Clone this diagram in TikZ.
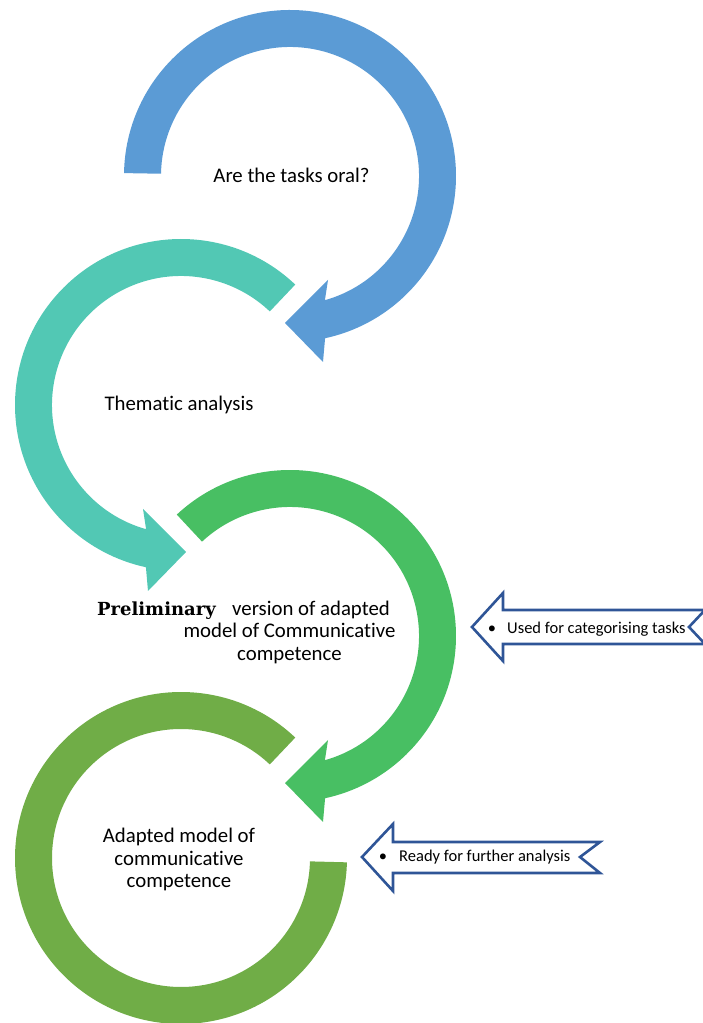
\documentclass[tikz,border=0pt]{standalone}
\usepackage{fontspec}
\setmainfont{Carlito}[Ligatures={NoCommon}]
\newfontfamily\prelimfont{DejaVu Serif}
\definecolor{cblue}{RGB}{91,155,213}
\definecolor{cteal}{RGB}{82,200,180}
\definecolor{cgreen}{RGB}{72,191,99}
\definecolor{colive}{RGB}{112,173,71}
\definecolor{cline}{RGB}{47,85,151}
\tikzset{
  lbl/.style={inner sep=0pt, font=\fontsize{20.8}{22.5}\selectfont, text=black},
  prelim/.style={inner sep=0pt, font=\prelimfont\bfseries\fontsize{18}{21}\selectfont, text=black},
  small/.style={inner sep=0pt, font=\fontsize{16.5}{19}\selectfont, text=black},
  callout/.style={draw=cline, line width=2.6pt, fill=white, line join=miter}
}
\begin{document}
\begin{tikzpicture}[x=1pt,y=1pt]
\useasboundingbox (0,0) rectangle (703,1023);
% blue arrow
\begin{scope}[shift={(290,847)}]
\fill[cblue] (179:166) arc[start angle=179, end angle=-77.8, radius=166] -- (33,-186) -- (-5,-147) -- (38,-104) -- (-74.3:129) arc[start angle=-74.3, end angle=179, radius=129] -- cycle;
\end{scope}
% teal arrow
\begin{scope}[shift={(181,618)}]
\fill[cteal] (46.5:166) arc[start angle=46.5, end angle=257.8, radius=166] -- (-33,-186) -- (5,-147) -- (-38,-104) -- (254.3:129) arc[start angle=254.3, end angle=46.5, radius=129] -- cycle;
\end{scope}
% green arrow
\begin{scope}[shift={(290,387)}]
\fill[cgreen] (133:166) arc[start angle=133, end angle=-77.8, radius=166] -- (33,-186) -- (-5,-147) -- (38,-104) -- (-74.3:129) arc[start angle=-74.3, end angle=133, radius=129] -- cycle;
\end{scope}
% olive ring
\begin{scope}[shift={(181,165)}]
\fill[colive] (46.5:166) arc[start angle=46.5, end angle=358.5, radius=166] -- (358.5:129) arc[start angle=358.5, end angle=46.5, radius=129] -- cycle;
\end{scope}
% callouts
\draw[callout] (472,396) -- (503,430) -- (503,413) -- (705,413) -- (689,396) -- (705,379) -- (503,379) -- (503,362) -- cycle;
\draw[callout] (362,166) -- (393,199) -- (393,181) -- (600,181) -- (580,166) -- (600,150) -- (393,150) -- (393,132) -- cycle;
% labels
\node[lbl, anchor=base] (t1) at (291.5,840) {Are the tasks oral?};
\node[lbl, anchor=base] (t2) at (179,612) {Thematic analysis};
\node[prelim, anchor=base east] (t3p) at (216,407) {Preliminary};
\node[lbl, anchor=base west] (t3a) at (232,407) {version of adapted};
\node[lbl, anchor=base] (t3b) at (289.5,385) {model of Communicative};
\node[lbl, anchor=base] (t3c) at (289.5,362) {competence};
\node[lbl, anchor=base] (t4a) at (179,180) {Adapted model of};
\node[lbl, anchor=base] (t4b) at (179,157) {communicative};
\node[lbl, anchor=base] (t4c) at (179,135) {competence};
\node[small, anchor=base] (b1) at (492,389) {•};
\node[small, anchor=base west] (c1) at (507,389) {Used for categorising tasks};
\node[small, anchor=base] (b2) at (383,161) {•};
\node[small, anchor=base west] (c2) at (399,161) {Ready for further analysis};
\end{tikzpicture}
\end{document}
